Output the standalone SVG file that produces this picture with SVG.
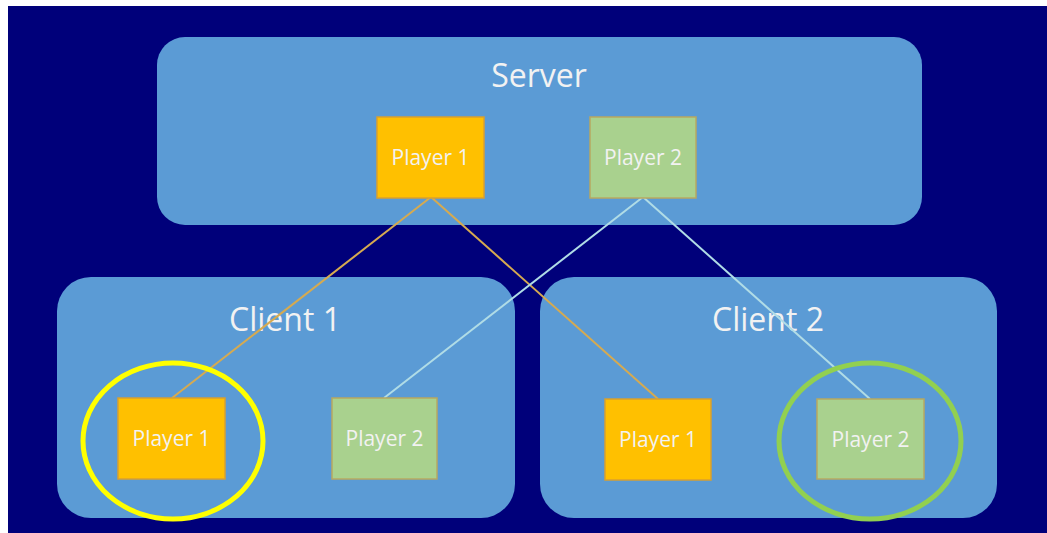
<svg xmlns="http://www.w3.org/2000/svg" width="1047" height="533" viewBox="0 0 1047 533">
  <style>
    .box { fill: #5B9BD5; }
    .title { font-family: "Open Sans", "Liberation Sans", sans-serif; font-size: 32px; fill: #F2F2F2; text-anchor: middle; }
    .lbl { font-family: "Open Sans", "Liberation Sans", sans-serif; font-size: 21px; fill: #F2F2F2; text-anchor: middle; }
    .p1 { fill: #FFC000; stroke: #D8A030; stroke-width: 1.5; }
    .p2 { fill: #A9D18E; stroke: #B8A860; stroke-width: 1.5; }
    .l1 { stroke: #D6AA50; stroke-width: 2; fill: none; }
    .l2 { stroke: #B0DCE6; stroke-width: 2; fill: none; }
  </style>
  <rect x="0" y="0" width="1047" height="533" fill="#FFFFFF"/>
  <rect x="8" y="6" width="1039" height="527" fill="#00007A"/>

  <g id="server">
    <rect class="box" x="157" y="37" width="765" height="188" rx="28"/>
    <text class="title" x="539" y="87">Server</text>
  </g>
  <g id="client1">
    <rect class="box" x="57" y="277" width="458" height="241" rx="34"/>
    <text class="title" x="285" y="331">Client 1</text>
  </g>
  <g id="client2">
    <rect class="box" x="540" y="277" width="457" height="241" rx="34"/>
    <text class="title" x="768" y="331">Client 2</text>
  </g>

  <g id="connectors">
    <line class="l1" x1="431" y1="197" x2="172" y2="398"/>
    <line class="l1" x1="431" y1="197" x2="658" y2="399"/>
    <line class="l2" x1="643" y1="197" x2="384" y2="398"/>
    <line class="l2" x1="643" y1="197" x2="870" y2="399"/>
  </g>

  <g id="server-player1">
    <rect class="p1" x="377" y="117" width="107" height="81"/>
    <text class="lbl" x="430.5" y="165">Player 1</text>
  </g>
  <g id="server-player2">
    <rect class="p2" x="590" y="117" width="106" height="81"/>
    <text class="lbl" x="643" y="165">Player 2</text>
  </g>
  <g id="client1-player1">
    <rect class="p1" x="118" y="398" width="107" height="81"/>
    <text class="lbl" x="171.5" y="446">Player 1</text>
  </g>
  <g id="client1-player2">
    <rect class="p2" x="332" y="398" width="105" height="81"/>
    <text class="lbl" x="384.5" y="446">Player 2</text>
  </g>
  <g id="client2-player1">
    <rect class="p1" x="605" y="399" width="106" height="81"/>
    <text class="lbl" x="658" y="447">Player 1</text>
  </g>
  <g id="client2-player2">
    <rect class="p2" x="817" y="399" width="107" height="80"/>
    <text class="lbl" x="870.5" y="447">Player 2</text>
  </g>

  <g id="highlights">
    <ellipse cx="173" cy="441" rx="90" ry="78" fill="none" stroke="#FFFF00" stroke-width="5"/>
    <ellipse cx="870" cy="441" rx="91" ry="78" fill="none" stroke="#92D050" stroke-width="5"/>
  </g>
</svg>
